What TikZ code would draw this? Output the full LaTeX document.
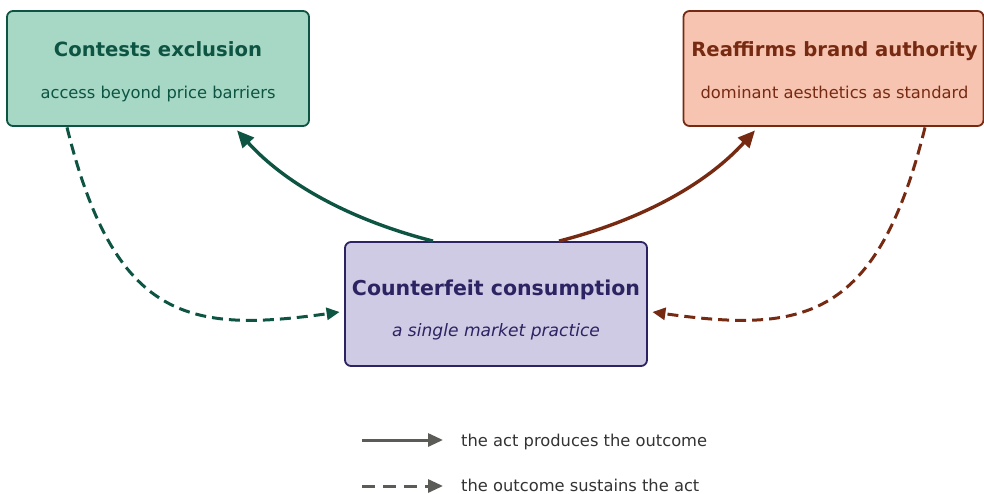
\documentclass[tikz,border=0pt]{standalone}
\usepackage{fontspec}
\setmainfont{DejaVu Sans}
\usetikzlibrary{arrows.meta,calc}
\definecolor{gfill}{HTML}{A6D8C5}
\definecolor{gdark}{HTML}{0D5442}
\definecolor{ofill}{HTML}{F6C4B1}
\definecolor{odark}{HTML}{772A12}
\definecolor{pfill}{HTML}{CFCBE4}
\definecolor{pdark}{HTML}{2C2462}
\definecolor{lgray}{HTML}{5B5B57}
\definecolor{ltext}{HTML}{333333}
\tikzset{
  box/.style={draw, rounded corners=6pt, line width=1.8pt, inner sep=0pt},
  ttl/.style={anchor=base, inner sep=0pt, font=\fontsize{19.6}{22}\selectfont\bfseries},
  sub/.style={anchor=base, inner sep=0pt, font=\fontsize{16.3}{19}\selectfont},
  act/.style={line width=3.4pt, -{Triangle[length=17pt,width=15pt]}},
  sust/.style={line width=3pt, dash pattern=on 11pt off 6pt, -{Triangle[length=13pt,width=12pt]}},
  legtext/.style={anchor=base west, inner sep=0pt, text=ltext, font=\fontsize{16.3}{19}\selectfont},
}
\begin{document}
\begin{tikzpicture}[x=1pt,y=-1pt]
\useasboundingbox (0,0) rectangle (984,494);
% boxes
\node[box, fill=gfill, draw=gdark, minimum width=302pt, minimum height=115pt] (ex) at (158,68.5) {};
\node[box, fill=ofill, draw=odark, minimum width=300pt, minimum height=115pt] (ba) at (833.5,68.5) {};
\node[box, fill=pfill, draw=pdark, minimum width=302pt, minimum height=124pt] (cc) at (496,304) {};
% texts
\node[ttl, text=gdark] (ext) at (158,56.5) {Contests exclusion};
\node[sub, text=gdark] (exs) at (158,99) {access beyond price barriers};
\node[ttl, text=odark] (bat) at (834.5,56.5) {Reaffirms brand authority};
\node[sub, text=odark] (bas) at (834.5,99) {dominant aesthetics as standard};
\node[ttl, text=pdark, font=\fontsize{20.5}{23}\selectfont\bfseries] (cct) at (496,295.5) {Counterfeit consumption};
\node[sub, text=pdark, font=\fontsize{17.1}{20}\selectfont\itshape] (ccs) at (496,336) {a single market practice};
% act produces outcome
\draw[act, gdark] ($(cc.north)+(-63,0)$) .. controls +(-82,-21) and +(49,54) .. ($(ex.south)+(79,3.5)$);
\draw[act, odark] ($(cc.north)+(63,0)$) .. controls +(82,-21) and +(-49,54) .. ($(ba.south)+(-78.5,3.5)$);
% outcome sustains act
\draw[sust, gdark] ($(ex.south)+(-91,0.5)$) .. controls +(48,194) and +(-150,21) .. ($(cc.west)+(-4.5,8)$);
\draw[sust, odark] ($(ba.south)+(91.5,0.5)$) .. controls +(-48,194) and +(150,21) .. ($(cc.east)+(4.5,8)$);
% legend
\coordinate (l1a) at (362,440);
\coordinate (l1b) at (443,440);
\coordinate (l2a) at (362,486);
\coordinate (l2b) at (443,486);
\draw[lgray, line width=3pt, -{Triangle[length=15pt,width=13pt]}] (l1a) -- (l1b);
\draw[lgray, line width=3pt, dash pattern=on 13pt off 8pt, -{Triangle[length=15pt,width=13pt]}] (l2a) -- (l2b);
\node[legtext] (lt1) at (461,446) {the act produces the outcome};
\node[legtext] (lt2) at (461,491) {the outcome sustains the act};
\end{tikzpicture}
\end{document}
